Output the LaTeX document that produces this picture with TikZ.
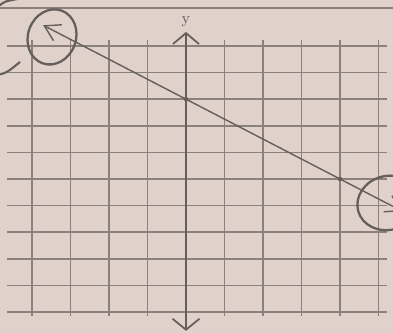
\documentclass[tikz,border=0pt]{standalone}
\usepackage{tikz}
\usetikzlibrary{arrows.meta}
\definecolor{paper}{RGB}{224,210,202}
\definecolor{gridgray}{RGB}{138,128,124}
\definecolor{pencil}{RGB}{100,94,92}
\begin{document}
\begin{tikzpicture}[x=0.77cm,y=0.532cm]
  % Sheet of paper
  \fill[paper] (-4.831,-5.789) rectangle (5.377,6.729);
  \clip (-4.831,-5.789) rectangle (5.377,6.729);
  % Ruling at the top of the sheet
  \draw[gridgray,line width=0.7pt] (-4.9,6.43) -- (5.4,6.43);
  % Grid
  \foreach \gx in {-4,-3,-2,-1,1,2,3,4,5}
    \draw[gridgray,line width=0.9pt] (\gx,-5.15) -- (\gx,5.23);
  \foreach \gy in {-5,...,5}
    \draw[gridgray,line width=0.9pt] (-4.65,\gy) -- (5.22,\gy);
  \draw[gridgray,line width=1pt] (-4.65,0) -- (5.22,0);
  % y-axis
  \draw[pencil,line width=1pt,{Straight Barb[length=2.2mm,width=5.4mm]}-{Straight Barb[length=2.2mm,width=5.2mm]}]
    (0,-5.71) -- (0,5.53);
  \node[pencil,font=\small] (ylabel) at (0,5.9) {y};
  % Line through the intercepts
  \coordinate (yint) at (0,3);
  \coordinate (xint) at (4,0);
  \coordinate (lend) at (-3.71,5.78);
  \coordinate (rend) at (5.62,-1.215);
  \draw[pencil,line width=0.8pt,{Straight Barb[length=3mm,width=3.6mm]}-{Straight Barb[length=3mm,width=3.6mm]}]
    (lend) -- (yint) -- (xint) -- (rend);
  \fill[pencil] (yint) circle (1.3pt);
  \fill[pencil] (xint) circle (1.3pt);
  % Circled ends
  \draw[pencil,line width=1.3pt,rotate around={-20:(-3.48,5.34)}]
    (-3.48,5.34) ellipse [x radius=0.48cm,y radius=0.56cm];
  \draw[pencil,line width=1.3pt,rotate around={15:(5.25,-0.9)}]
    (5.25,-0.9) ellipse [x radius=0.62cm,y radius=0.54cm];
  % Marks at the edge of the sheet
  \draw[pencil,line width=1.2pt] (-4.85,3.93) .. controls (-4.65,4.0) .. (-4.31,4.40);
  \draw[pencil,line width=1.2pt] (-4.85,6.52) .. controls (-4.7,6.68) .. (-4.4,6.76);
\end{tikzpicture}
\end{document}
